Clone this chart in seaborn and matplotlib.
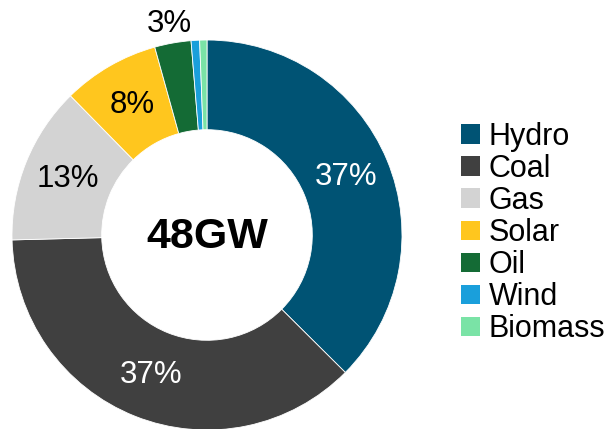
import numpy as np
import seaborn as sns
import matplotlib.pyplot as plt
from matplotlib.patches import Patch

sns.set_theme(style="white")
plt.rcParams["font.family"] = ["Liberation Sans", "DejaVu Sans"]
plt.rcParams["text.color"] = "black"

# data (share of capacity, %)
sources = ["Hydro", "Coal", "Gas", "Solar", "Oil", "Wind", "Biomass"]
shares = [37.3, 37.0, 13.0, 8.0, 3.0, 0.7, 0.6]
labels = ["37%", "37%", "13%", "8%", "3%", "", ""]
label_colors = ["white", "white", "black", "black", "black", "black", "black"]
colors = ["#005374", "#404040", "#D3D3D3", "#FFC61E", "#146B35", "#1A9FDB", "#7AE3A6"]
total_label = "48GW"

fig = plt.figure(figsize=(6.11, 4.29), dpi=100)
ax = fig.add_axes([12 / 611, -1 / 429, 390 / 611, 390 / 429])

wedges, _ = ax.pie(shares, colors=colors, startangle=90, counterclock=False,
                   radius=1.0, wedgeprops=dict(width=0.46, edgecolor="white", linewidth=0.6))
ax.set_xlim(-1, 1)
ax.set_ylim(-1, 1)
ax.set_aspect("equal")
ax.axis("off")

for w, lab, lc in zip(wedges, labels, label_colors):
    if not lab:
        continue
    ang = np.deg2rad((w.theta1 + w.theta2) / 2)
    span = abs(w.theta2 - w.theta1)
    r = 0.77 if span > 15 else 1.1
    ax.text(r * np.cos(ang), r * np.sin(ang), lab, ha="center", va="center",
            fontsize=22.5, color=lc, clip_on=False)

ax.text(0, -0.01, total_label, ha="center", va="center", fontsize=31, fontweight="bold")

handles = [Patch(facecolor=c, edgecolor="none") for c in colors]
fig.legend(handles, sources, loc="center left", bbox_to_anchor=(446 / 611, 1 - 233 / 429),
           frameon=False, fontsize=22, labelspacing=0.07, handlelength=0.6,
           handleheight=0.6, handletextpad=0.3, borderpad=0)

fig.savefig("out.png", dpi=100)
